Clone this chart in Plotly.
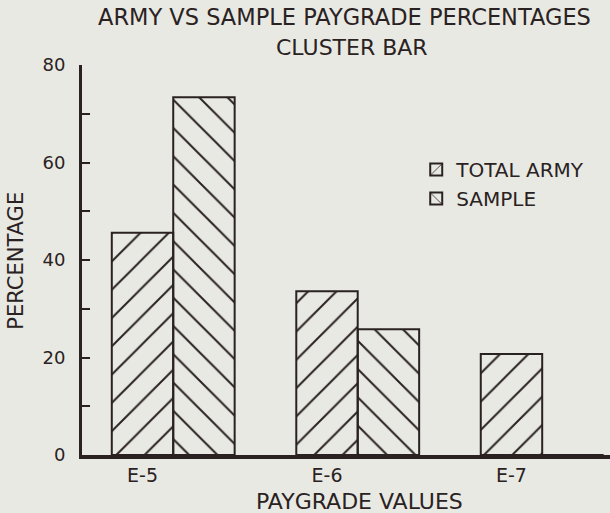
import plotly.graph_objects as go

paygrades = ["E-5", "E-6", "E-7"]
total_army = [45.6, 33.6, 20.7]
sample = [73.4, 25.8, 0.0]
y_ticks = [0, 20, 40, 60, 80]

BG = "#e8e9e2"
INK = "#2a2222"
FONT = "DejaVu Sans"

fig = go.Figure()
fig.add_trace(go.Bar(
    x=paygrades, y=total_army, name="TOTAL ARMY",
    width=0.333, offset=-0.1665,
    marker=dict(color="rgba(0,0,0,0)", line=dict(color=INK, width=2),
                pattern=dict(shape="/", size=20, solidity=0.1,
                             fgcolor=INK, fgopacity=1,
                             bgcolor="rgba(0,0,0,0)")),
    legendgroup="a",
))
fig.add_trace(go.Bar(
    x=paygrades, y=sample, name="SAMPLE",
    width=0.333, offset=0.1665,
    marker=dict(color="rgba(0,0,0,0)", line=dict(color=INK, width=2),
                pattern=dict(shape="\\", size=20, solidity=0.1,
                             fgcolor=INK, fgopacity=1,
                             bgcolor="rgba(0,0,0,0)")),
    legendgroup="b",
))

fig.update_layout(
    width=610, height=513,
    margin=dict(l=82, r=0, t=65, b=58),
    paper_bgcolor=BG, plot_bgcolor=BG,
    barmode="overlay",
    font=dict(family=FONT, size=18, color=INK),
    showlegend=True,
    legend=dict(x=0.633, y=0.782, xanchor="left", yanchor="top",
                bgcolor="rgba(0,0,0,0)", font=dict(size=20, color=INK),
                traceorder="grouped", tracegroupgap=0),
    xaxis=dict(type="category", range=[-0.328, 2.534], showline=True,
               linecolor=INK, linewidth=4, ticks="", showgrid=False,
               zeroline=False, tickfont=dict(size=19, color=INK)),
    yaxis=dict(range=[0, 80], showline=True, linecolor=INK, linewidth=3,
               ticks="inside", ticklen=8, tickwidth=2, tickcolor=INK,
               tickvals=y_ticks, ticktext=[str(v) for v in y_ticks],
               minor=dict(ticks="inside", ticklen=8, tickwidth=2,
                          tickcolor=INK, dtick=10, showgrid=False),
               showgrid=False, zeroline=False,
               tickfont=dict(size=18, color=INK), ticklabelstandoff=10),
    annotations=[
        dict(text="ARMY VS SAMPLE PAYGRADE PERCENTAGES", xref="paper",
             yref="paper", x=0.498, y=1.123, xanchor="center",
             yanchor="middle", showarrow=False, font=dict(size=22.5)),
        dict(text="CLUSTER BAR", xref="paper", yref="paper", x=0.511,
             y=1.046, xanchor="center", yanchor="middle", showarrow=False,
             font=dict(size=22)),
        dict(text="PAYGRADE VALUES", xref="paper", yref="paper", x=0.525,
             y=-0.118, xanchor="center", yanchor="middle", showarrow=False,
             font=dict(size=22)),
        dict(text="PERCENTAGE", xref="paper", yref="paper", x=-0.124,
             y=0.497, xanchor="center", yanchor="middle", textangle=-90,
             showarrow=False, font=dict(size=21)),
    ],
)

fig.write_html("out.html", config={"displayModeBar": False},
               post_script="document.body.style.margin='0';")
